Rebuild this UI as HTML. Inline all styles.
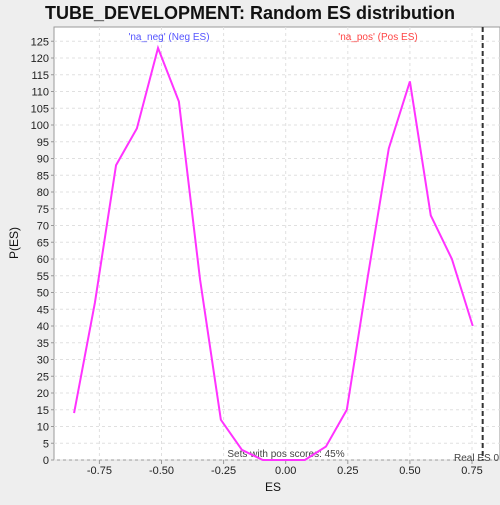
<!DOCTYPE html>
<html><head><style>
body{margin:0;background:#eeeeee;font-family:"Liberation Sans",sans-serif;}
</style></head><body>
<svg width="500" height="500" xmlns="http://www.w3.org/2000/svg">
<rect width="500" height="500" fill="#eeeeee"/>
<text x="250" y="19" text-anchor="middle" font-size="18" font-weight="bold" fill="#111">TUBE_DEVELOPMENT: Random ES distribution</text>
<rect x="54" y="27" width="446" height="433" fill="#fff" stroke="#999"/>
<g id="grid"></g><g id="axes"></g>
<text x="169" y="40" text-anchor="middle" font-size="10" fill="#5555ff">'na_neg' (Neg ES)</text>
<text x="378" y="40" text-anchor="middle" font-size="10" fill="#ff4444">'na_pos' (Pos ES)</text>
<text x="286" y="457" text-anchor="middle" font-size="10" fill="#444">Sets with pos scores: 45%</text>
<text x="454" y="461" font-size="10" fill="#444">Real ES 0</text>
<polyline id="line" fill="none" stroke="#ff33ff" stroke-width="2"/>
<line id="real" y1="27" y2="460" stroke="#333" stroke-width="2" stroke-dasharray="5,3"/>
<text x="18" y="243" transform="rotate(-90 18 243)" text-anchor="middle" font-size="12" fill="#111">P(ES)</text>
<text x="273" y="491" text-anchor="middle" font-size="12" fill="#111">ES</text>
</svg>
<script>
const esValues=[-0.852,-0.768,-0.683,-0.599,-0.514,-0.430,-0.345,-0.261,-0.176,-0.092,-0.007,0.077,0.162,0.246,0.331,0.415,0.500,0.584,0.669,0.753];
const densities=[14,47,88,99,123,107,54,12,3,0,0,0,4,15,55,93,113,73,60,40];
const xTicks=[-0.75,-0.5,-0.25,0,0.25,0.5,0.75];
const xTickLabels=["-0.75","-0.50","-0.25","0.00","0.25","0.50","0.75"];
const realES=0.793;
const X=v=>285.7+v*248.4, Y=v=>460-v*3.35;
const ns="http://www.w3.org/2000/svg";
const g=document.getElementById('grid'), a=document.getElementById('axes');
function mk(p,t,at){const e=document.createElementNS(ns,t);for(const k in at)e.setAttribute(k,at[k]);p.appendChild(e);return e;}
for(let v=0;v<=125;v+=5){const y=Y(v);
 const l=mk(g,'line',{x1:54,x2:500,y1:y,y2:y,stroke:'#e0e0e0','stroke-dasharray':'3,3'});
 
 
 const t=mk(a,'text',{x:49,y:y+4,'text-anchor':'end','font-size':11,fill:'#222'});t.textContent=v;
 
 
 mk(a,'line',{x1:51,x2:54,y1:y,y2:y,stroke:'#999'});}
xTicks.forEach((v,i)=>{const x=X(v);
 const l=mk(g,'line',{x1:x,x2:x,y1:27,y2:460,stroke:'#e0e0e0','stroke-dasharray':'3,3'});
 
 
 mk(a,'line',{x1:x,x2:x,y1:460,y2:464,stroke:'#999'});
 const t=mk(a,'text',{x:x,y:474,'text-anchor':'middle','font-size':11,fill:'#222'});t.textContent=xTickLabels[i];
 
 });
document.getElementById('line').setAttribute('points',esValues.map((v,i)=>X(v)+','+Y(densities[i])).join(' '));
const r=document.getElementById('real');r.setAttribute('x1',X(realES));r.setAttribute('x2',X(realES));
</script>
</body></html>
